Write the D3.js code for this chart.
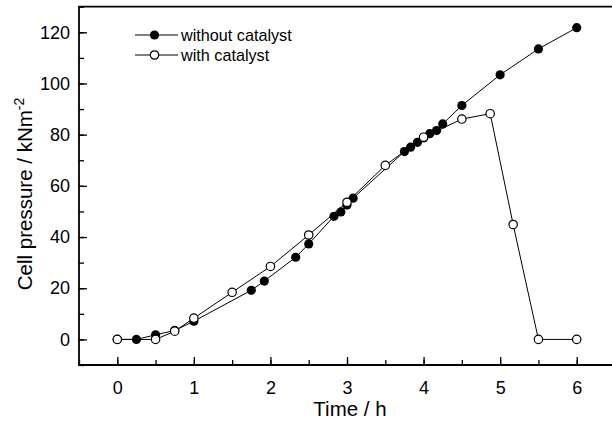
<!DOCTYPE html>
<html>
<head>
<meta charset="utf-8">
<script src="https://cdn.jsdelivr.net/npm/d3@7"></script>
<style>
  body { margin: 0; background: #fff; }
  svg { font-family: "Liberation Sans", Arial, sans-serif; }
</style>
</head>
<body>
<svg id="chart" width="612" height="421"></svg>
<script>
// without catalyst (filled circles)
var timeNoCat = [0, 0.25, 0.5, 0.75, 1.0, 1.75, 1.92, 2.33, 2.5, 2.83, 2.92, 3.0, 3.08,
                 3.75, 3.83, 3.92, 4.0, 4.08, 4.17, 4.25, 4.5, 5.0, 5.5, 6.0];
var pressNoCat = [0, 0, 1.8, 3.5, 7.1, 19.2, 22.8, 32.1, 37.3, 48.1, 49.8, 52.5, 55.2,
                  73.4, 75.1, 77.0, 78.7, 80.4, 81.6, 84.2, 91.4, 103.4, 113.5, 121.8];
// with catalyst (open circles)
var timeCat = [0, 0.5, 0.75, 1.0, 1.5, 2.0, 2.5, 3.0, 3.5, 4.0, 4.5, 4.87, 5.17, 5.5, 6.0];
var pressCat = [0, 0, 3.2, 8.3, 18.4, 28.5, 40.8, 53.6, 68.0, 79.0, 86.1, 88.2, 44.9, 0, 0];

var xTicks = [0, 1, 2, 3, 4, 5, 6];
var yTicks = [0, 20, 40, 60, 80, 100, 120];
var legendLabels = ["without catalyst", "with catalyst"];

function draw() {
  var svg = d3.select("#chart");
  var pLeft = 79, pRight = 615, pTop = 6.7, pBottom = 365;

  var x = d3.scaleLinear().domain([-0.5, 6.5]).range([pLeft, pRight]);
  var y = d3.scaleLinear().domain([-10, 130]).range([pBottom, pTop]);

  var noCat = timeNoCat.map(function(t, i) { return [t, pressNoCat[i]]; });
  var withCat = timeCat.map(function(t, i) { return [t, pressCat[i]]; });

  // minor ticks
  svg.append("g")
    .attr("transform", "translate(0," + pBottom + ")")
    .call(d3.axisBottom(x).tickValues(d3.range(-0.5, 6.51, 0.5)).tickSize(-5).tickFormat(""))
    .call(function(g) { g.select(".domain").remove(); g.selectAll("line").attr("stroke-width", 1.3); });
  svg.append("g")
    .attr("transform", "translate(" + pLeft + ",0)")
    .call(d3.axisLeft(y).tickValues(d3.range(-10, 131, 10)).tickSize(-5).tickFormat(""))
    .call(function(g) { g.select(".domain").remove(); g.selectAll("line").attr("stroke-width", 1.3); });

  // major ticks
  var xAxis = svg.append("g")
    .attr("transform", "translate(0," + pBottom + ")")
    .call(d3.axisBottom(x).tickValues(xTicks).tickSize(-8).tickPadding(16).tickFormat(d3.format("d")));
  var yAxis = svg.append("g")
    .attr("transform", "translate(" + pLeft + ",0)")
    .call(d3.axisLeft(y).tickValues(yTicks).tickSize(-8).tickPadding(9).tickFormat(d3.format("d")));
  [xAxis, yAxis].forEach(function(g) {
    g.select(".domain").remove();
    g.selectAll("line").attr("stroke-width", 1.3);
    g.selectAll("text").attr("font-size", 18).attr("fill", "#000")
      .attr("font-family", "Liberation Sans, Arial, sans-serif");
  });

  // frame (left, bottom, top)
  svg.append("path")
    .attr("d", "M" + pRight + "," + pTop + "H" + pLeft + "V" + pBottom + "H" + pRight)
    .attr("fill", "none").attr("stroke", "#000").attr("stroke-width", 1.8);

  var line = d3.line().x(function(d) { return x(d[0]); }).y(function(d) { return y(d[1]); });

  svg.append("path").datum(noCat).attr("d", line)
    .attr("fill", "none").attr("stroke", "#000").attr("stroke-width", 1);
  svg.append("path").datum(withCat).attr("d", line)
    .attr("fill", "none").attr("stroke", "#000").attr("stroke-width", 1);

  svg.append("g").selectAll("circle").data(noCat).enter().append("circle")
    .attr("cx", function(d) { return x(d[0]); })
    .attr("cy", function(d) { return y(d[1]); })
    .attr("r", 4.6).attr("fill", "#000");
  svg.append("g").selectAll("circle").data(withCat).enter().append("circle")
    .attr("cx", function(d) { return x(d[0]); })
    .attr("cy", function(d) { return y(d[1]); })
    .attr("r", 4.2).attr("fill", "#fff").attr("stroke", "#000").attr("stroke-width", 1.2);

  // axis titles
  svg.append("text")
    .attr("x", (x(0) + x(6)) / 2 + 3).attr("y", 416)
    .attr("text-anchor", "middle").attr("font-size", 20.5)
    .text("Time / h");

  var yl = svg.append("text")
    .attr("transform", "translate(32,194) rotate(-90)")
    .attr("text-anchor", "middle").attr("font-size", 20.5);
  yl.append("tspan").text("Cell pressure / kNm");
  yl.append("tspan").attr("dy", -8).attr("font-size", 14).text("-2");

  // legend
  var leg = svg.append("g").selectAll("g").data(legendLabels).enter().append("g")
    .attr("transform", function(d, i) { return "translate(135," + (35 + i * 20) + ")"; });
  leg.append("line").attr("x1", 0).attr("x2", 43).attr("stroke", "#000").attr("stroke-width", 1);
  leg.append("circle").attr("cx", 19.5).attr("r", function(d, i) { return i ? 4.2 : 4.6; })
    .attr("fill", function(d, i) { return i ? "#fff" : "#000"; })
    .attr("stroke", "#000").attr("stroke-width", function(d, i) { return i ? 1.2 : 0; });
  leg.append("text").attr("x", 46).attr("dy", "0.35em").attr("font-size", 16.2).text(function(d) { return d; });
}

draw();
</script>
</body>
</html>
